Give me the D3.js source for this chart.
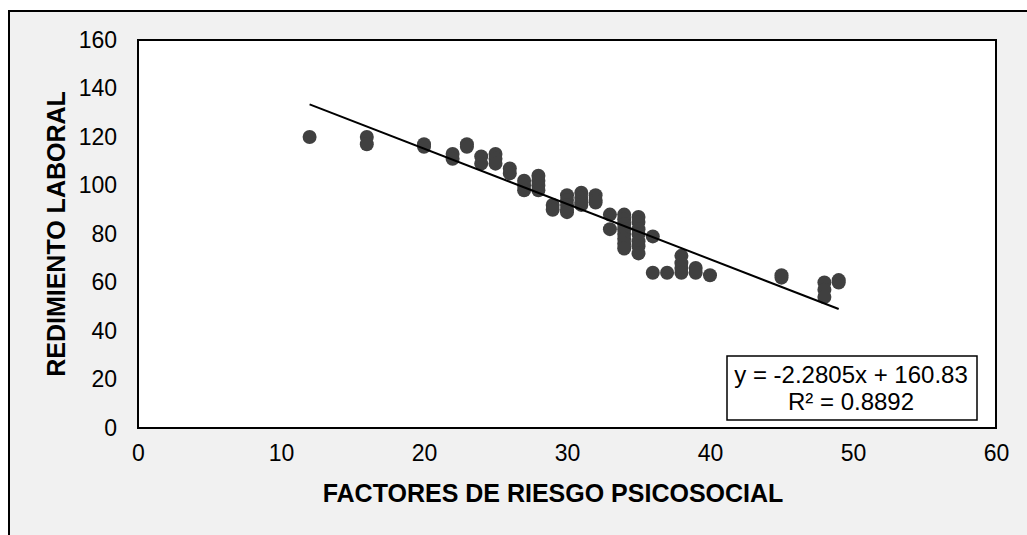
<!DOCTYPE html>
<html>
<head>
<meta charset="utf-8">
<script src="https://cdn.jsdelivr.net/npm/d3@7"></script>
<style>
  body { margin: 0; background: #fff; }
  svg { display: block; font-family: Arial, "Liberation Sans", sans-serif; }
</style>
</head>
<body>
<script>
// riesgo psicosocial (x) vs rendimiento laboral (y)
var factores = [12, 16, 16, 20, 20, 22, 22, 23, 23, 24, 24, 25, 25, 25, 26, 26,
  27, 27, 27, 28, 28, 28, 28, 29, 29, 30, 30, 30, 30, 30, 31, 31, 31, 31,
  32, 32, 32, 33, 33, 34, 34, 34, 34, 34, 34, 34, 34, 35, 35, 35, 35, 35, 35, 35,
  36, 36, 37, 38, 38, 38, 38, 39, 39, 40, 45, 45, 48, 48, 48, 49, 49];
var rendimiento = [120, 120, 117, 117, 116, 113, 111, 117, 116, 112, 109, 113, 111, 109, 107, 105,
  102, 100, 98, 104, 102, 100, 98, 92, 90, 96, 94, 92, 90, 89, 97, 95, 93, 92,
  96, 94, 93, 88, 82, 88, 86, 84, 82, 80, 78, 76, 74, 87, 85, 82, 80, 77, 75, 72,
  79, 64, 64, 71, 68, 66, 64, 66, 64, 63, 63, 62, 60, 57, 54, 61, 60];
var xTicks = [0, 10, 20, 30, 40, 50, 60];
var yTicks = [0, 20, 40, 60, 80, 100, 120, 140, 160];
var pendiente = -2.2805, intercepto = 160.83, r2 = 0.8892;
var tramo = [12, 49];

var width = 1027, height = 535;
var svg = d3.select('body').append('svg').attr('width', width).attr('height', height);

// chart area frame
svg.append('rect').attr('x', 9).attr('y', 11).attr('width', 1030).attr('height', 540)
  .attr('fill', '#f1f1f1').attr('stroke', '#000').attr('stroke-width', 2);

var x = d3.scaleLinear().domain([0, 60]).range([138, 996]);
var y = d3.scaleLinear().domain([0, 160]).range([428, 40]);

svg.append('rect').attr('x', x(0)).attr('y', y(160))
  .attr('width', x(60) - x(0)).attr('height', y(0) - y(160))
  .attr('fill', '#fff').attr('stroke', '#000').attr('stroke-width', 2);

var xAxis = svg.append('g').attr('transform', 'translate(0,' + y(0) + ')')
  .call(d3.axisBottom(x).tickValues(xTicks).tickSize(0).tickPadding(17));
var yAxis = svg.append('g').attr('transform', 'translate(' + x(0) + ',0)')
  .call(d3.axisLeft(y).tickValues(yTicks).tickSize(0).tickPadding(21));
[xAxis, yAxis].forEach(function (g) {
  g.select('.domain').remove();
  g.selectAll('text').attr('font-size', 23).attr('fill', '#000')
    .attr('font-family', 'Arial, "Liberation Sans", sans-serif');
});

// puntos
svg.append('g').selectAll('circle')
  .data(factores)
  .enter()
  .append('circle')
  .attr('cx', function (d) { return x(d); })
  .attr('cy', function (d, i) { return y(rendimiento[i]); })
  .attr('r', 7)
  .attr('fill', '#404040');

// linea de tendencia
svg.append('line')
  .attr('x1', x(tramo[0])).attr('y1', y(pendiente * tramo[0] + intercepto))
  .attr('x2', x(tramo[1])).attr('y2', y(pendiente * tramo[1] + intercepto))
  .attr('stroke', '#000').attr('stroke-width', 2);

// ecuacion
svg.append('rect').attr('x', 727).attr('y', 356).attr('width', 250).attr('height', 64)
  .attr('fill', '#fff').attr('stroke', '#000').attr('stroke-width', 1.5);
svg.append('text').attr('x', 851).attr('y', 383).attr('text-anchor', 'middle')
  .attr('font-size', 24).text('y = ' + pendiente + 'x + ' + intercepto);
svg.append('text').attr('x', 851).attr('y', 410).attr('text-anchor', 'middle')
  .attr('font-size', 24).text('R² = ' + r2);

// titulos de ejes
svg.append('text').attr('x', 553).attr('y', 502).attr('text-anchor', 'middle')
  .attr('font-size', 25).attr('font-weight', 'bold').text('FACTORES DE RIESGO PSICOSOCIAL');
svg.append('text').attr('transform', 'translate(65,' + (y(0) + y(160)) / 2 + ') rotate(-90)')
  .attr('text-anchor', 'middle')
  .attr('font-size', 25).attr('font-weight', 'bold').text('REDIMIENTO LABORAL');
</script>
</body>
</html>
